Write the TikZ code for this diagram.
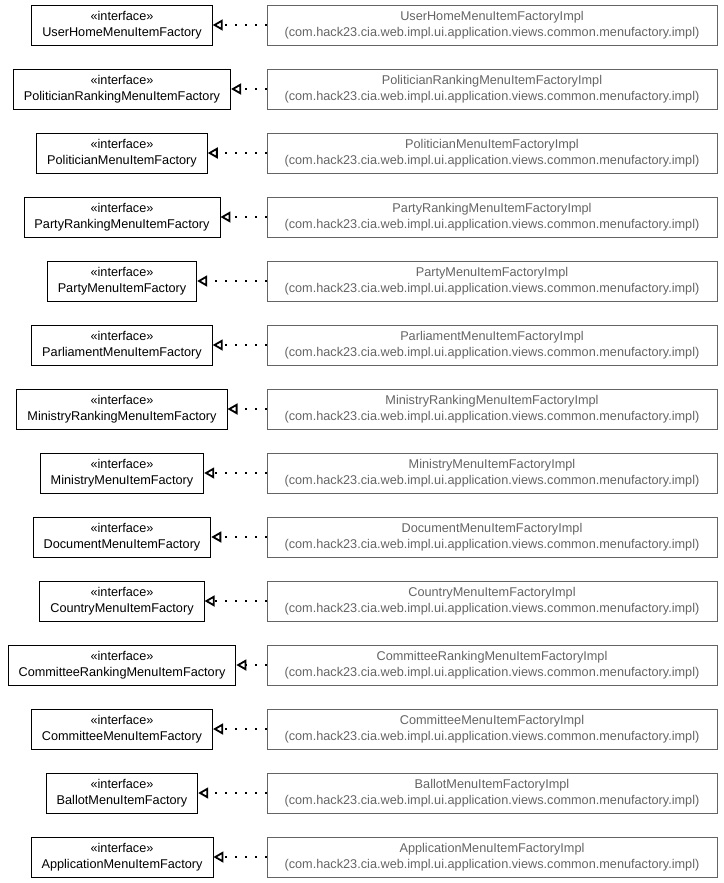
\documentclass[tikz,border=0pt]{standalone}
\usepackage{fontspec}
\setmainfont{Liberation Sans}
\usetikzlibrary{arrows.meta}
\definecolor{implgray}{RGB}{100,100,100}
\tikzset{
  iface/.style={draw, line width=0.9pt, minimum height=40pt, inner xsep=10.5pt, align=center,
    font=\fontsize{12.7}{15.5}\selectfont},
  impl/.style={draw=implgray, line width=0.8pt, text=implgray, minimum height=40pt, minimum width=450pt,
    align=center, font=\fontsize{12.7}{15.5}\selectfont},
  realize/.style={draw, line width=2pt, dash pattern=on 2pt off 8pt,
    -{Triangle[open,length=10pt,width=11pt,line width=1.8pt]}}
}
\newcommand{\pkg}{(com.hack23.cia.web.impl.ui.application.views.common.menufactory.impl)}
\begin{document}
\begin{tikzpicture}[x=1pt,y=1pt]
\useasboundingbox (0,0) rectangle (723,-883);
\node[iface] (1) at (122,-25) {«interface»\\UserHomeMenuItemFactory};
\node[iface] (2) at (122,-89) {«interface»\\PoliticianRankingMenuItemFactory};
\node[iface] (3) at (122,-153) {«interface»\\PoliticianMenuItemFactory};
\node[iface] (4) at (122,-217) {«interface»\\PartyRankingMenuItemFactory};
\node[iface] (5) at (122,-281) {«interface»\\PartyMenuItemFactory};
\node[iface] (6) at (122,-345) {«interface»\\ParliamentMenuItemFactory};
\node[iface] (7) at (122,-409) {«interface»\\MinistryRankingMenuItemFactory};
\node[iface] (8) at (122,-473) {«interface»\\MinistryMenuItemFactory};
\node[iface] (9) at (122,-537) {«interface»\\DocumentMenuItemFactory};
\node[iface] (10) at (122,-601) {«interface»\\CountryMenuItemFactory};
\node[iface] (11) at (122,-665) {«interface»\\CommitteeRankingMenuItemFactory};
\node[iface] (12) at (122,-729) {«interface»\\CommitteeMenuItemFactory};
\node[iface] (13) at (122,-793) {«interface»\\BallotMenuItemFactory};
\node[iface] (14) at (122,-857) {«interface»\\ApplicationMenuItemFactory};

\node[impl] (1i) at (492,-25) {UserHomeMenuItemFactoryImpl\\\pkg};
\node[impl] (2i) at (492,-89) {PoliticianRankingMenuItemFactoryImpl\\\pkg};
\node[impl] (3i) at (492,-153) {PoliticianMenuItemFactoryImpl\\\pkg};
\node[impl] (4i) at (492,-217) {PartyRankingMenuItemFactoryImpl\\\pkg};
\node[impl] (5i) at (492,-281) {PartyMenuItemFactoryImpl\\\pkg};
\node[impl] (6i) at (492,-345) {ParliamentMenuItemFactoryImpl\\\pkg};
\node[impl] (7i) at (492,-409) {MinistryRankingMenuItemFactoryImpl\\\pkg};
\node[impl] (8i) at (492,-473) {MinistryMenuItemFactoryImpl\\\pkg};
\node[impl] (9i) at (492,-537) {DocumentMenuItemFactoryImpl\\\pkg};
\node[impl] (10i) at (492,-601) {CountryMenuItemFactoryImpl\\\pkg};
\node[impl] (11i) at (492,-665) {CommitteeRankingMenuItemFactoryImpl\\\pkg};
\node[impl] (12i) at (492,-729) {CommitteeMenuItemFactoryImpl\\\pkg};
\node[impl] (13i) at (492,-793) {BallotMenuItemFactoryImpl\\\pkg};
\node[impl] (14i) at (492,-857) {ApplicationMenuItemFactoryImpl\\\pkg};

\path[realize] (1i) -- (1);
\path[realize] (2i) -- (2);
\path[realize] (3i) -- (3);
\path[realize] (4i) -- (4);
\path[realize] (5i) -- (5);
\path[realize] (6i) -- (6);
\path[realize] (7i) -- (7);
\path[realize] (8i) -- (8);
\path[realize] (9i) -- (9);
\path[realize] (10i) -- (10);
\path[realize] (11i) -- (11);
\path[realize] (12i) -- (12);
\path[realize] (13i) -- (13);
\path[realize] (14i) -- (14);
\end{tikzpicture}
\end{document}
